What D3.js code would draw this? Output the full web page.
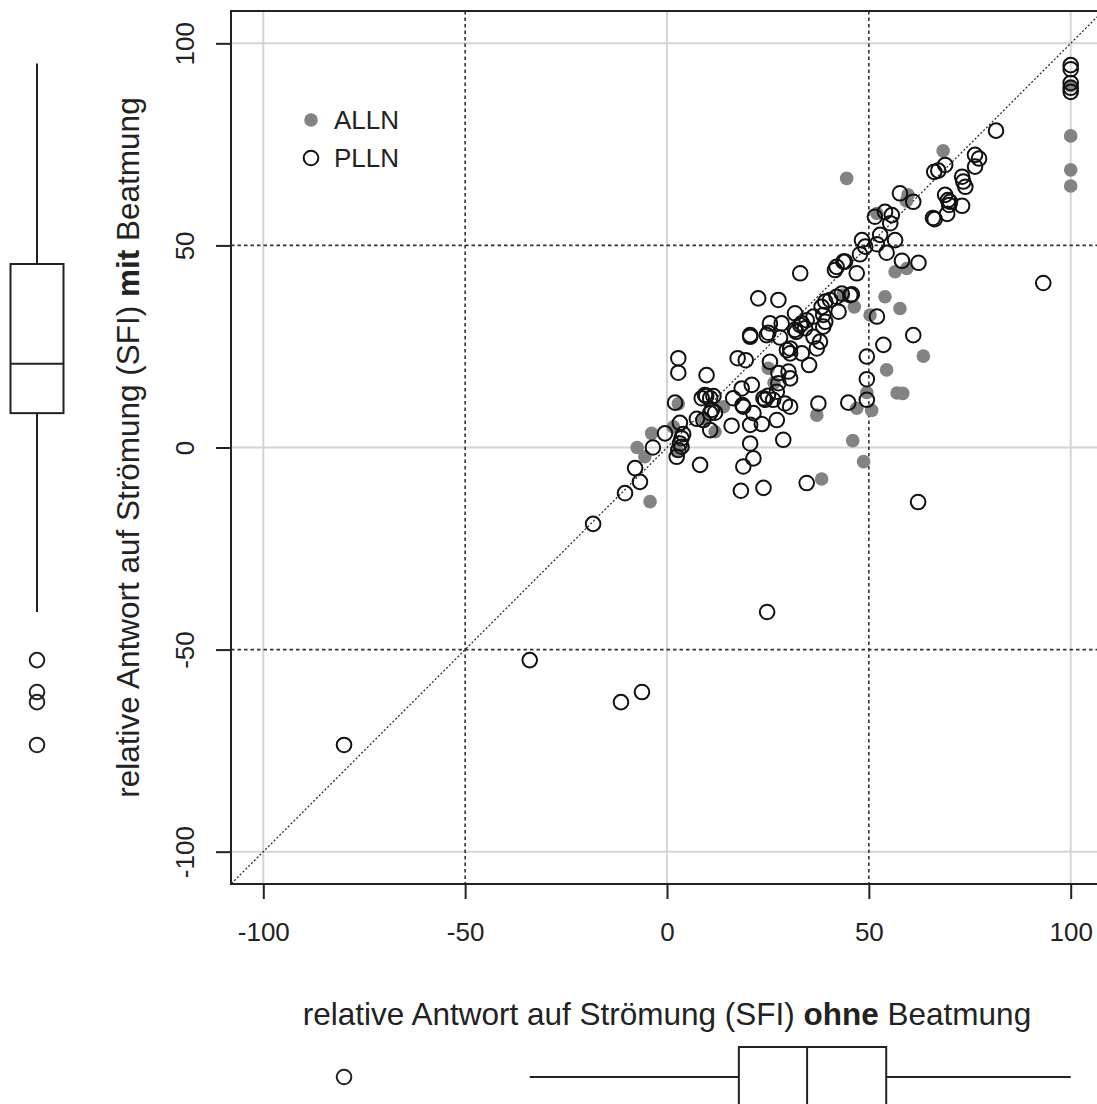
<!DOCTYPE html>
<html>
<head>
<meta charset="utf-8">
<script src="https://cdn.jsdelivr.net/npm/d3@7"></script>
<style>
  html, body { margin: 0; padding: 0; background: #fff; }
  svg { display: block; font-family: "Liberation Sans", Arial, Helvetica, sans-serif; }
</style>
</head>
<body>
<svg id="chart" width="1097" height="1104"></svg>
<script>
// ALLN group (filled grey): [SFI ohne Beatmung, SFI mit Beatmung]
const allnPoints = [
  [100, 89.5], [100, 77.1], [100, 68.7], [100, 64.7],
  [68.4, 73.4], [44.5, 66.6], [59.7, 62.5], [59.3, 61], [52, 57.9],
  [56.5, 43.5], [59.4, 44.3], [54, 37.3], [57.7, 34.4], [50.3, 32.8],
  [46.4, 34.8], [43.6, 37.7], [54.4, 19.2], [57, 13.5], [58.4, 13.4],
  [63.5, 22.6], [49.5, 13.6], [47, 9.7], [50.7, 9.2], [37.1, 8],
  [46, 1.7], [48.7, -3.5], [38.3, -7.8], [25.1, 19.6], [26.5, 16],
  [2.8, 10.8], [1.6, 5.1], [2.5, -1], [-3.8, 3.5], [-7.4, 0],
  [-5.5, -2.3], [-4.2, -13.4], [14, 10.1], [11.9, 3.9], [9, 7.2]
];

// PLLN group (open circles)
const pllnPoints = [
  [-80, -73.6], [-34, -52.6], [-11.4, -63], [-6.2, -60.5], [-18.3, -18.9],
  [24.8, -40.7], [93.2, 40.7], [62.2, -13.5], [34.6, -8.8], [23.9, -10],
  [18.3, -10.7], [-10.4, -11.3], [-6.7, -8.5], [-7.9, -5.1], [-3.5, 0],
  [-0.5, 3.5], [8.2, -4.3], [18.9, -4.7], [21.4, -2.7], [20.6, 1], [28.8, 1.9],
  [100, 94.6], [100, 93.6], [100, 90.2], [100, 89], [100, 88],
  [81.5, 78.4], [76.3, 72.4], [77.3, 71.5], [76.3, 69.5], [66.2, 68.2],
  [67.2, 68.5], [68.9, 69.9], [73.1, 67], [73.4, 65.8], [73.9, 64.5],
  [68.9, 62.5], [69.6, 61.2], [69.9, 60], [69.4, 57.8], [73.1, 59.8],
  [65.9, 56.8], [66.3, 56.5], [57.7, 62.9], [61, 60.8], [51.5, 57.1],
  [54, 58.3], [55.7, 57.5], [55.3, 55.5], [52.8, 52.6], [56.5, 51.3],
  [48.3, 51.3], [49.1, 49.7], [52, 50.3], [47.8, 47.8], [54.4, 48.2],
  [44.1, 46], [42, 44.7], [41.6, 43.9], [47, 43.1], [33, 43.1],
  [58.2, 46.2], [62.3, 45.7], [52, 32.4], [45.4, 37.7], [42, 37.3],
  [40.4, 36.5], [39.2, 36.1], [42.5, 33.6], [38.3, 34.8], [38.7, 32.8],
  [43.3, 38.1], [22.6, 36.9], [27.6, 36.5], [31.7, 33.2], [36.3, 32.4],
  [33.4, 30.7], [34.2, 29.5], [38.7, 29.9], [39.2, 31.1], [25.5, 30.7],
  [28.4, 30.7], [25.1, 28.4], [20.6, 27.8], [32, 28.6], [61, 27.8],
  [53.6, 25.4], [49.5, 22.5], [49.5, 16.9], [49.5, 11.8], [44.9, 11.1],
  [37.5, 10.9], [2.8, 22.1], [2.8, 18.5], [9.8, 17.9], [2, 11.1],
  [3.2, 6.1], [3.6, 2.3], [3.2, 1], [3.6, 0.2], [2.8, -0.6],
  [2.4, -2.3], [4, 3.3], [7.4, 7.1], [10.7, 8.5], [11.1, 9.3],
  [11.9, 8.6], [10.7, 4.3], [8.6, 12.2], [9.7, 12.7], [11.5, 12.7],
  [16, 5.4], [18.7, 10.5], [18.5, 14.6], [21, 15.5], [16.4, 12.2],
  [20.6, 5.6], [21.4, 8.5], [23.5, 5.8], [17.5, 22.1], [19.5, 21.6],
  [20.6, 27.4], [24.7, 27.8], [25.5, 21.2], [23.9, 12.2], [24.3, 11.8],
  [26.3, 11.8], [25, 12.8], [27.2, 6.8], [27.6, 18.4], [30.1, 18.8],
  [30.5, 17.1], [27.6, 15.9], [27.2, 13.8], [29.2, 10.9], [30.5, 10.1],
  [28, 27.2], [30.5, 24.5], [33.4, 23.3], [35.2, 20.4], [29.7, 24.1],
  [37.9, 26.2], [37.1, 24.5], [36.3, 27.4], [33, 30.3], [34.6, 31.5],
  [30.5, 23.3], [9.4, 13], [10.7, 12.2], [9, 6.8], [18.9, 10.1],
  [31.7, 29.1], [43.7, 46], [70.1, 60.8], [45.8, 37.9]
];

// Marginal boxplot summaries: [lower whisker, Q1, median, Q3, upper whisker]
const mitBoxStats = [-40.7, 8.5, 20.7, 45.4, 95];
const mitOutliers = [-52.6, -60.5, -63, -73.6];
const ohneBoxStats = [-34, 17.8, 34.7, 54.3, 100];
const ohneOutliers = [-80];

const tickValues = [-100, -50, 0, 50, 100];
const greyLines = [-100, 0, 100];
const dottedLines = [-50, 50];
const legendItems = ["ALLN", "PLLN"];

const svg = d3.select("#chart");
const plot = { left: 231, right: 1103, top: 11, bottom: 884 };

const x = d3.scaleLinear().domain([-108, 108]).range([plot.left, plot.right]);
const y = d3.scaleLinear().domain([-108, 108]).range([plot.bottom, plot.top]);

svg.append("defs").append("clipPath").attr("id", "plotClip")
  .append("rect")
  .attr("x", plot.left).attr("y", plot.top)
  .attr("width", plot.right - plot.left).attr("height", plot.bottom - plot.top);

const inner = svg.append("g").attr("clip-path", "url(#plotClip)");

// light grey reference lines
greyLines.forEach(v => {
  inner.append("line").attr("x1", x(v)).attr("x2", x(v)).attr("y1", plot.top).attr("y2", plot.bottom)
    .attr("stroke", "#d4d4d4").attr("stroke-width", 2);
  inner.append("line").attr("x1", plot.left).attr("x2", plot.right).attr("y1", y(v)).attr("y2", y(v))
    .attr("stroke", "#d4d4d4").attr("stroke-width", 2);
});

// dotted lines at +/-50
dottedLines.forEach(v => {
  inner.append("line").attr("x1", x(v)).attr("x2", x(v)).attr("y1", plot.top).attr("y2", plot.bottom)
    .attr("stroke", "#333").attr("stroke-width", 1.6).attr("stroke-dasharray", "3.5,3");
  inner.append("line").attr("x1", plot.left).attr("x2", plot.right).attr("y1", y(v)).attr("y2", y(v))
    .attr("stroke", "#333").attr("stroke-width", 1.6).attr("stroke-dasharray", "3.5,3");
});

// identity line
inner.append("line")
  .attr("x1", x(-110)).attr("y1", y(-110)).attr("x2", x(110)).attr("y2", y(110))
  .attr("stroke", "#222").attr("stroke-width", 1.2).attr("stroke-dasharray", "2,2");

// points
inner.append("g").selectAll("circle").data(allnPoints).join("circle")
  .attr("cx", d => x(d[0])).attr("cy", d => y(d[1])).attr("r", 6.8)
  .attr("fill", "#838383");

inner.append("g").selectAll("circle").data(pllnPoints).join("circle")
  .attr("cx", d => x(d[0])).attr("cy", d => y(d[1])).attr("r", 7.3)
  .attr("fill", "none").attr("stroke", "#111").attr("stroke-width", 2);

// frame
svg.append("rect")
  .attr("x", plot.left).attr("y", plot.top)
  .attr("width", plot.right - plot.left).attr("height", plot.bottom - plot.top)
  .attr("fill", "none").attr("stroke", "#222").attr("stroke-width", 2);

// plain hyphen-minus tick labels
const fmt = d => String(d);

// axes
const xAxis = svg.append("g").attr("transform", `translate(0,${plot.bottom})`)
  .call(d3.axisBottom(x).tickValues(tickValues).tickSize(15).tickPadding(24).tickFormat(fmt));
xAxis.select(".domain").remove();
xAxis.selectAll(".tick line").attr("stroke", "#222").attr("stroke-width", 2);
xAxis.selectAll(".tick text").attr("font-size", 26).attr("fill", "#222")
  .attr("font-family", "Liberation Sans, Arial, sans-serif");

const yAxis = svg.append("g").attr("transform", `translate(${plot.left},0)`)
  .call(d3.axisLeft(y).tickValues(tickValues).tickSize(15).tickFormat(fmt));
yAxis.select(".domain").remove();
yAxis.selectAll(".tick line").attr("stroke", "#222").attr("stroke-width", 2);
yAxis.selectAll(".tick text")
  .attr("font-size", 26).attr("fill", "#222")
  .attr("font-family", "Liberation Sans, Arial, sans-serif")
  .attr("text-anchor", "middle").attr("x", null).attr("dy", null)
  .attr("transform", "translate(-37,0) rotate(-90)");

// axis titles
const xt = svg.append("text").attr("x", 667).attr("y", 1025).attr("text-anchor", "middle")
  .attr("font-size", 31.5).attr("fill", "#222");
xt.append("tspan").text("relative Antwort auf Strömung (SFI) ");
xt.append("tspan").attr("font-weight", "bold").text("ohne");
xt.append("tspan").text(" Beatmung");

const yt = svg.append("text").attr("transform", `translate(139,${y(0)}) rotate(-90)`)
  .attr("text-anchor", "middle").attr("font-size", 31.5).attr("fill", "#222");
yt.append("tspan").text("relative Antwort auf Strömung (SFI) ");
yt.append("tspan").attr("font-weight", "bold").text("mit");
yt.append("tspan").text(" Beatmung");

// legend
const legend = svg.append("g");
legendItems.forEach((name, i) => {
  const cy = 120 + i * 38;
  if (i === 0) {
    legend.append("circle").attr("cx", 311).attr("cy", cy).attr("r", 6.8).attr("fill", "#838383");
  } else {
    legend.append("circle").attr("cx", 311).attr("cy", cy).attr("r", 7.3)
      .attr("fill", "none").attr("stroke", "#111").attr("stroke-width", 2);
  }
  legend.append("text").attr("x", 334).attr("y", cy + 9).attr("font-size", 26).attr("fill", "#222").text(name);
});

// vertical boxplot (mit Beatmung) on the left
const vb = svg.append("g").attr("stroke", "#222").attr("stroke-width", 2).attr("fill", "none");
const vbx = 37, vbw = 26.5;
vb.append("line").attr("x1", vbx).attr("x2", vbx).attr("y1", y(mitBoxStats[4])).attr("y2", y(mitBoxStats[3]));
vb.append("line").attr("x1", vbx).attr("x2", vbx).attr("y1", y(mitBoxStats[1])).attr("y2", y(mitBoxStats[0]));
vb.append("rect").attr("x", vbx - vbw).attr("width", 2 * vbw)
  .attr("y", y(mitBoxStats[3])).attr("height", y(mitBoxStats[1]) - y(mitBoxStats[3]));
vb.append("line").attr("x1", vbx - vbw).attr("x2", vbx + vbw).attr("y1", y(mitBoxStats[2])).attr("y2", y(mitBoxStats[2]));
vb.selectAll("circle").data(mitOutliers).join("circle")
  .attr("cx", vbx).attr("cy", d => y(d)).attr("r", 7.3);

// horizontal boxplot (ohne Beatmung) at the bottom
const hb = svg.append("g").attr("stroke", "#222").attr("stroke-width", 2).attr("fill", "none");
const hby = 1077, hbw = 30;
hb.append("line").attr("y1", hby).attr("y2", hby).attr("x1", x(ohneBoxStats[0])).attr("x2", x(ohneBoxStats[1]));
hb.append("line").attr("y1", hby).attr("y2", hby).attr("x1", x(ohneBoxStats[3])).attr("x2", x(ohneBoxStats[4]));
hb.append("rect").attr("y", hby - hbw).attr("height", 2 * hbw)
  .attr("x", x(ohneBoxStats[1])).attr("width", x(ohneBoxStats[3]) - x(ohneBoxStats[1]));
hb.append("line").attr("y1", hby - hbw).attr("y2", hby + hbw).attr("x1", x(ohneBoxStats[2])).attr("x2", x(ohneBoxStats[2]));
hb.selectAll("circle").data(ohneOutliers).join("circle")
  .attr("cy", hby).attr("cx", d => x(d)).attr("r", 7.3);
</script>
</body>
</html>
